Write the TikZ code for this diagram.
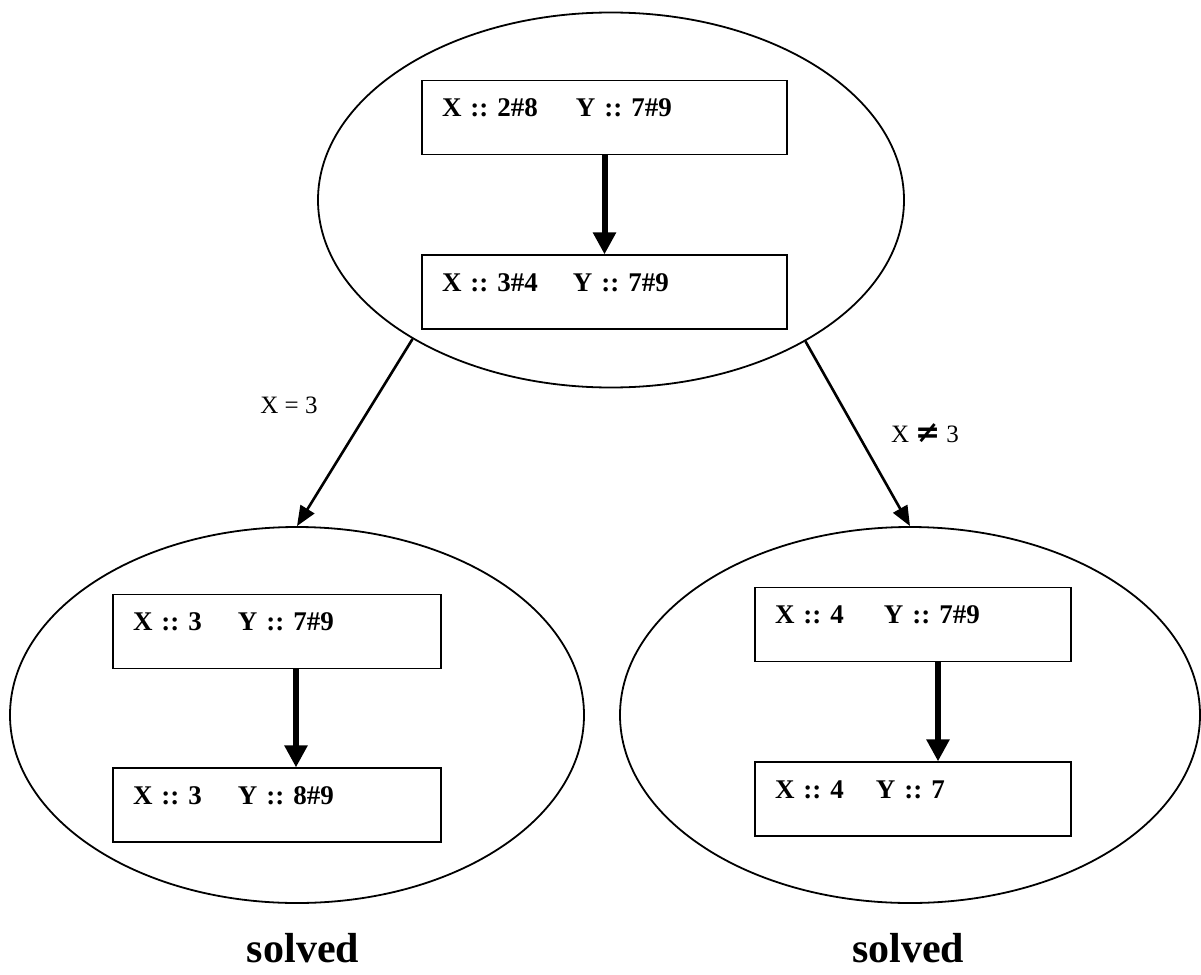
\documentclass[tikz,border=0pt]{standalone}
\usepackage{fontspec}
\setmainfont{Liberation Serif}
\newfontfamily\symfont{DejaVu Sans}
\usepackage{tikz}
\usetikzlibrary{shapes.geometric, arrows.meta, positioning}
\frenchspacing
\tikzset{
  dom/.style={
    rectangle, draw=black, line width=1.8pt,
    align=left, text width=#1,
    inner xsep=20pt, inner ysep=17pt,
    text height=19pt, text depth=21pt,
    font=\fontsize{27}{30}\selectfont\bfseries},
  space/.style={
    ellipse, draw=black, line width=1.8pt, inner sep=0pt},
  prop/.style={-{Triangle[length=22pt,width=22pt]}, line width=6pt},
  branch/.style={-{Triangle[length=20pt,width=16pt]}, line width=2.6pt},
  cond/.style={font=\fontsize{25}{30}\selectfont},
  done/.style={font=\fontsize{42}{48}\selectfont\bfseries, anchor=base},
}
\begin{document}
\begin{tikzpicture}[x=1pt, y=-1pt]
  \useasboundingbox (0,0) rectangle (1201,974);

  \node[space, minimum width=586pt, minimum height=375pt] (root) at (611,200) {};
  \node[space, minimum width=574pt, minimum height=376pt] (eq) at (297,715) {};
  \node[space, minimum width=580pt, minimum height=376pt] (neq) at (910,715) {};

  \node[dom=325pt] (r1) at (604.5,117.5) {X :: 2\#8\hspace{38pt}Y :: 7\#9};
  \node[dom=325pt, below=99pt of r1] (r2) {X :: 3\#4\hspace{35pt}Y :: 7\#9};
  \draw[prop] (r1) -- (r2);

  \node[dom=288pt] (a1) at (277,631.5) {X :: 3\hspace{36pt}Y :: 7\#9};
  \node[dom=288pt, below=98pt of a1] (a2) {X :: 3\hspace{36pt}Y :: 8\#9};
  \draw[prop] ([xshift=19pt]a1.south) -- ([xshift=19pt]a2.north);

  \node[dom=276pt] (b1) at (913,624.5) {X :: 4\hspace{40pt}Y :: 7\#9};
  \node[dom=276pt, below=99pt of b1] (b2) {X :: 4\hspace{32pt}Y :: 7};
  \draw[prop] ([xshift=25pt]b1.south) -- ([xshift=25pt]b2.north);

  \draw[branch] (root.215.6) -- (eq.north);
  \draw[branch] (root.324) -- (neq.north);

  \node[cond] (c1) at (289,405) {X = 3};
  \node[cond] (c2) at (925,433) {X\hspace{6pt}{\symfont\bfseries\fontsize{30}{30}\selectfont ≠}\hspace{6pt}3};

  \node[done] (s1) at (303,962) {solved};
  \node[done] (s2) at (908,962) {solved};
\end{tikzpicture}
\end{document}
